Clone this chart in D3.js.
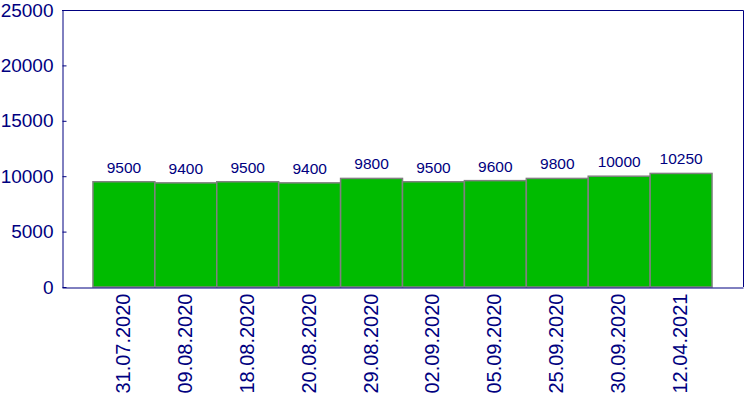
<!DOCTYPE html>
<html>
<head>
<meta charset="utf-8">
<script src="https://cdn.jsdelivr.net/npm/d3@7"></script>
<style>
  body { margin: 0; background: #fff; }
  text { font-family: Arial, "Liberation Sans", sans-serif; fill: #000080; }
</style>
</head>
<body>
<div id="chart"></div>
<script>
// data
var dates = ["31.07.2020", "09.08.2020", "18.08.2020", "20.08.2020", "29.08.2020",
             "02.09.2020", "05.09.2020", "25.09.2020", "30.09.2020", "12.04.2021"];
var values = [9500, 9400, 9500, 9400, 9800, 9500, 9600, 9800, 10000, 10250];
var yTicks = [0, 5000, 10000, 15000, 20000, 25000];

var W = 750, H = 400;
var plot = {left: 62, right: 743, top: 10, bottom: 287};

var svg = d3.select("#chart").append("svg")
    .attr("width", W)
    .attr("height", H);

var x = d3.scaleBand()
    .domain(dates)
    .range([plot.left, plot.right])
    .paddingInner(0)
    .paddingOuter(0.5);

var y = d3.scaleLinear()
    .domain([0, 25000])
    .range([plot.bottom, plot.top]);

// bars
svg.selectAll(".bar")
    .data(values)
    .enter().append("rect")
    .attr("class", "bar")
    .attr("x", function(d, i) { return x(dates[i]); })
    .attr("width", x.bandwidth())
    .attr("y", function(d) { return y(d); })
    .attr("height", function(d) { return plot.bottom - y(d); })
    .attr("fill", "#00bb00")
    .attr("stroke", "#808080")
    .attr("stroke-width", 1.5);

// value labels
svg.selectAll(".val")
    .data(values)
    .enter().append("text")
    .attr("class", "val")
    .attr("x", function(d, i) { return x(dates[i]) + x.bandwidth() / 2; })
    .attr("y", function(d) { return y(d) - 9; })
    .attr("text-anchor", "middle")
    .style("font-size", "15.5px")
    .text(function(d) { return d; });

// frame (top + right)
svg.append("path")
    .attr("d", "M" + plot.left + "," + (plot.top + 0.5) + "H" + (plot.right + 0.5) + "V" + plot.bottom)
    .attr("fill", "none")
    .attr("stroke", "#000080");

// y axis
var yAxis = svg.append("g")
    .attr("transform", "translate(" + (plot.left + 0.5) + ",0)")
    .call(d3.axisRight(y).tickValues(yTicks).tickSize(4).tickSizeOuter(0).tickFormat(d3.format("d")));
yAxis.select(".domain").attr("stroke", "#000080");
yAxis.selectAll(".tick line").attr("stroke", "#000080");
yAxis.selectAll(".tick text")
    .attr("x", -9)
    .attr("text-anchor", "end")
    .style("font-size", "19px")
    .attr("fill", "#000080");

// x axis
var xAxis = svg.append("g")
    .attr("transform", "translate(0," + (plot.bottom + 0.5) + ")")
    .call(d3.axisBottom(x).tickSize(0).tickSizeOuter(0));
xAxis.select(".domain").attr("stroke", "#000080");
xAxis.selectAll(".tick text")
    .attr("transform", "rotate(-90)")
    .attr("x", -6)
    .attr("y", 0)
    .attr("dy", "0.3em")
    .attr("text-anchor", "end")
    .style("font-size", "20px")
    .attr("fill", "#000080");
</script>
</body>
</html>
